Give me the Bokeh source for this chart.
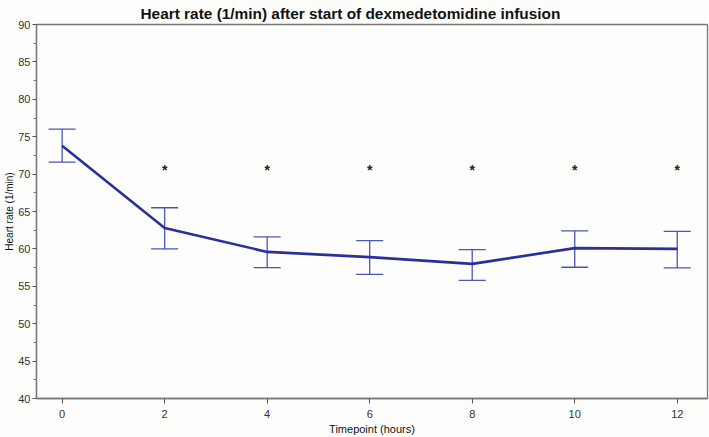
from bokeh.plotting import figure
from bokeh.models import ColumnDataSource, Whisker, Range1d, FixedTicker, Title
from bokeh.embed import file_html
from bokeh.resources import INLINE
from bokeh.core.properties import value

# Data
hours = [0, 2, 4, 6, 8, 10, 12]
mean_hr = [73.8, 62.8, 59.6, 58.9, 58.0, 60.1, 60.0]
upper_hr = [76.0, 65.5, 61.6, 61.1, 59.9, 62.4, 62.35]
lower_hr = [71.6, 60.0, 57.5, 56.6, 55.8, 57.55, 57.45]
sig_hours = [2, 4, 6, 8, 10, 12]
sig_marks = ["*", "*", "*", "*", "*", "*"]
sig_level = [70.5] * 6
x_ticks = [0, 2, 4, 6, 8, 10, 12]
y_ticks = [40, 45, 50, 55, 60, 65, 70, 75, 80, 85, 90]

FONT = "Liberation Sans"

p = figure(width=709, height=437, output_backend="svg", toolbar_location=None,
           x_range=Range1d(-0.5, 12.59), y_range=Range1d(40, 90),
           min_border_left=36, min_border_right=2, min_border_bottom=39, min_border_top=0)
p.title = Title(text="Heart rate (1/min) after start of dexmedetomidine infusion",
                align="left", offset=104, text_font=FONT, text_font_size="15.4px",
                text_font_style="bold", text_color="#111111", standoff=5)
p.background_fill_color = "#fdfdfc"
p.border_fill_color = "#fdfdfc"
p.outline_line_color = "#777777"
p.outline_line_width = 1.3
p.grid.visible = False

src = ColumnDataSource(dict(x=hours, y=mean_hr, upper=upper_hr, lower=lower_hr))
w = Whisker(source=src, base="x", upper="upper", lower="lower",
            line_color="#4a55b8", line_width=1.3)
w.upper_head.size = 27
w.lower_head.size = 27
w.upper_head.line_color = "#4a55b8"
w.lower_head.line_color = "#4a55b8"
w.upper_head.line_width = 1.3
w.lower_head.line_width = 1.3
p.add_layout(w)

p.line("x", "y", source=src, line_color="#2b2f9b", line_width=2.6)

ssrc = ColumnDataSource(dict(x=sig_hours, y=sig_level, t=sig_marks))
p.text("x", "y", text="t", source=ssrc, text_align="center", text_baseline="middle",
       text_font=value(FONT), text_font_size="14px", text_font_style="bold",
       text_color="#222222")

p.xaxis.ticker = FixedTicker(ticks=x_ticks)
p.yaxis.ticker = FixedTicker(ticks=y_ticks, minor_ticks=[42.5 + 5 * i for i in range(10)])
p.xaxis.axis_label = "Timepoint (hours)"
p.yaxis.axis_label = "Heart rate (1/min)"
for ax in (p.xaxis, p.yaxis):
    ax.axis_line_color = "#777777"
    ax.axis_line_width = 1.3
    ax.major_tick_line_color = "#555555"
    ax.minor_tick_line_color = "#777777"
    ax.major_tick_out = 5
    ax.major_tick_in = 0
    ax.minor_tick_out = 3
    ax.minor_tick_in = 0
    ax.major_label_text_font = FONT
    ax.major_label_text_font_size = "11px"
    ax.major_label_text_color = "#333333"
    ax.axis_label_text_font = FONT
    ax.axis_label_text_font_style = "normal"
    ax.axis_label_text_color = "#111111"
p.xaxis.minor_tick_out = 0
p.xaxis.major_label_standoff = 6
p.xaxis.axis_label_text_font_size = "11px"
p.xaxis.axis_label_standoff = 2
p.yaxis.axis_label_text_font_size = "10px"
p.yaxis.major_tick_out = 4
p.yaxis.major_label_standoff = 2
p.yaxis.axis_label_standoff = 0

open("out.html", "w").write(file_html(p, INLINE))
